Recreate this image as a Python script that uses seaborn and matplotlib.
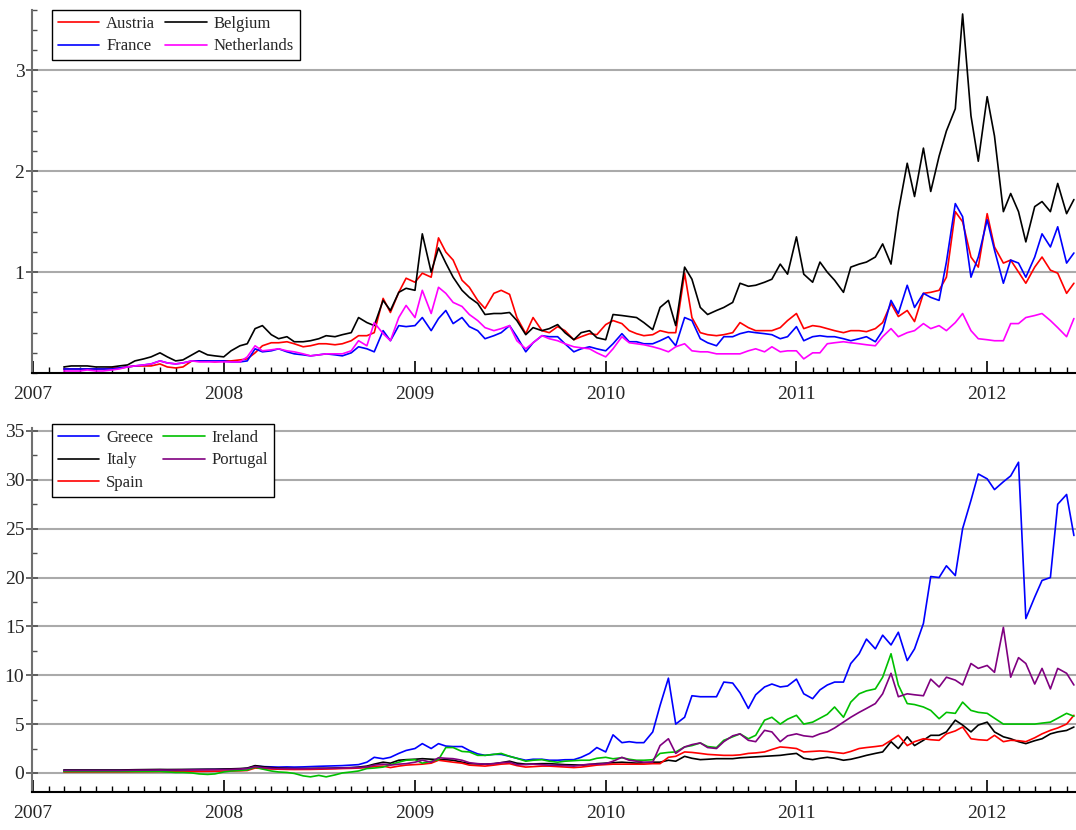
import numpy as np
import pandas as pd
import matplotlib
matplotlib.use("Agg")
import matplotlib.pyplot as plt
import matplotlib.dates as mdates
from matplotlib.ticker import MultipleLocator, FixedLocator
import seaborn as sns

# semi-monthly observations, Mar 2007 - Jun 2012
dates = pd.date_range("2007-03-01", periods=128, freq="SMS")

austria = [
    0.04, 0.04, 0.04, 0.04, 0.04, 0.04, 0.05, 0.05,
    0.06, 0.07, 0.07, 0.07, 0.09, 0.06, 0.05, 0.06,
    0.12, 0.12, 0.12, 0.11, 0.12, 0.12, 0.13, 0.14,
    0.20, 0.27, 0.30, 0.30, 0.31, 0.29, 0.26, 0.27,
    0.29, 0.29, 0.28, 0.29, 0.32, 0.37, 0.37, 0.40,
    0.74, 0.60, 0.80, 0.94, 0.90, 0.99, 0.95, 1.34,
    1.20, 1.12, 0.92, 0.85, 0.72, 0.64, 0.79, 0.82,
    0.78, 0.55, 0.39, 0.55, 0.42, 0.40, 0.46, 0.42,
    0.33, 0.36, 0.39, 0.38, 0.48, 0.52, 0.49, 0.42,
    0.39, 0.37, 0.38, 0.42, 0.40, 0.40, 0.99, 0.55,
    0.40, 0.38, 0.37, 0.38, 0.40, 0.50, 0.45, 0.42,
    0.42, 0.42, 0.45, 0.52, 0.59, 0.44, 0.47, 0.46,
    0.44, 0.42, 0.40, 0.42, 0.42, 0.41, 0.44, 0.50,
    0.69, 0.56, 0.62, 0.51, 0.79, 0.80, 0.82, 0.95,
    1.60, 1.50, 1.15, 1.05, 1.58, 1.25, 1.09, 1.12,
    1.00, 0.89, 1.05, 1.15, 1.02, 0.99, 0.79, 0.89,
]
belgium = [
    0.06, 0.07, 0.07, 0.07, 0.06, 0.06, 0.06, 0.07,
    0.08, 0.12, 0.14, 0.16, 0.20, 0.16, 0.12, 0.13,
    0.18, 0.22, 0.18, 0.17, 0.16, 0.22, 0.27, 0.29,
    0.44, 0.47, 0.38, 0.34, 0.36, 0.31, 0.31, 0.32,
    0.34, 0.37, 0.36, 0.38, 0.40, 0.55, 0.50, 0.47,
    0.72, 0.62, 0.80, 0.84, 0.82, 1.38, 1.00, 1.24,
    1.09, 0.95, 0.82, 0.75, 0.69, 0.58, 0.59, 0.59,
    0.60, 0.52, 0.38, 0.45, 0.42, 0.44, 0.48, 0.40,
    0.33, 0.40, 0.42, 0.35, 0.33, 0.58, 0.57, 0.56,
    0.55, 0.50, 0.43, 0.65, 0.72, 0.47, 1.05, 0.93,
    0.65, 0.58, 0.62, 0.65, 0.70, 0.89, 0.86, 0.87,
    0.90, 0.93, 1.08, 0.98, 1.35, 0.98, 0.90, 1.10,
    1.00, 0.92, 0.80, 1.05, 1.08, 1.10, 1.15, 1.28,
    1.08, 1.60, 2.08, 1.75, 2.23, 1.80, 2.15, 2.40,
    2.62, 3.56, 2.55, 2.10, 2.74, 2.35, 1.60, 1.78,
    1.60, 1.30, 1.65, 1.70, 1.60, 1.88, 1.58, 1.72,
]
france = [
    0.04, 0.04, 0.04, 0.04, 0.04, 0.04, 0.04, 0.05,
    0.06, 0.07, 0.08, 0.09, 0.12, 0.10, 0.09, 0.10,
    0.12, 0.12, 0.12, 0.12, 0.12, 0.11, 0.11, 0.12,
    0.24, 0.21, 0.22, 0.24, 0.21, 0.19, 0.18, 0.17,
    0.18, 0.19, 0.18, 0.17, 0.20, 0.26, 0.24, 0.21,
    0.42, 0.32, 0.47, 0.46, 0.47, 0.55, 0.42, 0.54,
    0.62, 0.49, 0.55, 0.46, 0.42, 0.34, 0.37, 0.40,
    0.47, 0.36, 0.21, 0.30, 0.37, 0.36, 0.36, 0.29,
    0.21, 0.24, 0.26, 0.24, 0.22, 0.29, 0.39, 0.31,
    0.31, 0.29, 0.29, 0.32, 0.36, 0.27, 0.55, 0.52,
    0.34, 0.30, 0.27, 0.36, 0.36, 0.39, 0.41, 0.40,
    0.39, 0.38, 0.34, 0.36, 0.46, 0.32, 0.36, 0.37,
    0.36, 0.36, 0.34, 0.32, 0.34, 0.36, 0.31, 0.42,
    0.72, 0.59, 0.87, 0.65, 0.79, 0.75, 0.72, 1.10,
    1.68, 1.55, 0.95, 1.15, 1.52, 1.22, 0.89, 1.12,
    1.09, 0.95, 1.15, 1.38, 1.25, 1.45, 1.09, 1.19,
]
netherlands = [
    0.02, 0.02, 0.02, 0.03, 0.02, 0.02, 0.03, 0.04,
    0.06, 0.07, 0.08, 0.09, 0.12, 0.10, 0.09, 0.10,
    0.12, 0.11, 0.11, 0.11, 0.11, 0.11, 0.11, 0.16,
    0.27, 0.22, 0.23, 0.24, 0.22, 0.21, 0.19, 0.17,
    0.18, 0.19, 0.19, 0.19, 0.22, 0.32, 0.27, 0.50,
    0.39, 0.32, 0.55, 0.67, 0.55, 0.82, 0.59, 0.85,
    0.79, 0.70, 0.66, 0.58, 0.52, 0.45, 0.42, 0.44,
    0.47, 0.32, 0.24, 0.30, 0.37, 0.34, 0.32, 0.29,
    0.26, 0.25, 0.24, 0.20, 0.16, 0.24, 0.36, 0.30,
    0.29, 0.28, 0.26, 0.24, 0.21, 0.26, 0.29, 0.22,
    0.21, 0.21, 0.19, 0.19, 0.19, 0.19, 0.22, 0.24,
    0.21, 0.26, 0.21, 0.22, 0.22, 0.14, 0.20, 0.20,
    0.29, 0.30, 0.31, 0.30, 0.29, 0.28, 0.27, 0.36,
    0.44, 0.36, 0.40, 0.42, 0.49, 0.44, 0.47, 0.42,
    0.50, 0.59, 0.42, 0.34, 0.33, 0.32, 0.32, 0.49,
    0.49, 0.55, 0.57, 0.59, 0.52, 0.45, 0.36, 0.54,
]

greece = [
    0.25, 0.25, 0.25, 0.25, 0.25, 0.25, 0.25, 0.25,
    0.27, 0.28, 0.30, 0.30, 0.32, 0.30, 0.30, 0.32,
    0.33, 0.34, 0.35, 0.36, 0.37, 0.38, 0.40, 0.45,
    0.70, 0.65, 0.62, 0.60, 0.62, 0.60, 0.62, 0.65,
    0.68, 0.70, 0.72, 0.75, 0.80, 0.85, 1.10, 1.60,
    1.45, 1.60, 2.00, 2.30, 2.50, 3.00, 2.50, 3.00,
    2.75, 2.70, 2.70, 2.30, 1.95, 1.80, 1.90, 1.90,
    1.70, 1.50, 1.30, 1.40, 1.40, 1.30, 1.30, 1.35,
    1.36, 1.60, 2.00, 2.60, 2.15, 3.90, 3.10, 3.20,
    3.10, 3.10, 4.20, 6.90, 9.70, 5.00, 5.70, 7.90,
    7.80, 7.80, 7.80, 9.30, 9.20, 8.20, 6.60, 8.00,
    8.80, 9.10, 8.80, 8.90, 9.60, 8.10, 7.60, 8.50,
    9.00, 9.30, 9.30, 11.20, 12.20, 13.70, 12.70, 14.10,
    13.10, 14.40, 11.50, 12.70, 15.30, 20.10, 20.00, 21.20,
    20.20, 25.00, 27.90, 30.60, 30.10, 29.00, 29.80, 30.40,
    31.80, 15.80, 18.00, 19.70, 20.00, 27.50, 28.50, 24.30,
]
ireland = [
    0.15, 0.15, 0.15, 0.15, 0.15, 0.15, 0.15, 0.15,
    0.15, 0.15, 0.15, 0.15, 0.15, 0.10, 0.05, 0.05,
    0.00, -0.10, -0.15, -0.10, 0.10, 0.20, 0.25, 0.30,
    0.60, 0.40, 0.20, 0.10, 0.05, -0.05, -0.30, -0.40,
    -0.25, -0.40, -0.20, 0.00, 0.10, 0.20, 0.45, 0.50,
    0.60, 0.85, 1.10, 1.30, 1.36, 1.00, 1.20, 1.36,
    2.60, 2.60, 2.20, 2.15, 1.80, 1.80, 1.90, 2.00,
    1.70, 1.50, 1.20, 1.30, 1.36, 1.20, 1.10, 1.20,
    1.25, 1.30, 1.30, 1.50, 1.60, 1.45, 1.56, 1.40,
    1.30, 1.30, 1.35, 2.00, 2.10, 2.15, 2.66, 2.80,
    3.07, 2.70, 2.60, 3.34, 3.70, 4.00, 3.50, 3.85,
    5.40, 5.70, 5.00, 5.50, 5.90, 5.00, 5.20, 5.60,
    6.00, 6.75, 5.70, 7.25, 8.10, 8.40, 8.60, 9.80,
    12.20, 9.00, 7.10, 7.00, 6.75, 6.40, 5.55, 6.20,
    6.10, 7.25, 6.40, 6.20, 6.10, 5.60, 5.00, 5.00,
    5.00, 5.00, 5.00, 5.10, 5.20, 5.60, 6.10, 5.80,
]
italy = [
    0.30, 0.30, 0.30, 0.30, 0.30, 0.30, 0.30, 0.30,
    0.32, 0.33, 0.34, 0.35, 0.36, 0.35, 0.35, 0.36,
    0.37, 0.38, 0.38, 0.38, 0.40, 0.42, 0.45, 0.50,
    0.75, 0.65, 0.55, 0.50, 0.48, 0.45, 0.45, 0.46,
    0.48, 0.48, 0.50, 0.52, 0.55, 0.60, 0.70, 0.90,
    1.10, 1.00, 1.30, 1.36, 1.40, 1.46, 1.40, 1.36,
    1.35, 1.30, 1.10, 0.95, 0.92, 0.90, 0.95, 1.05,
    1.20, 1.00, 0.90, 0.92, 0.95, 0.95, 0.90, 0.85,
    0.82, 0.80, 0.85, 0.95, 1.00, 1.05, 1.10, 1.05,
    1.00, 1.05, 1.10, 1.10, 1.30, 1.20, 1.70, 1.50,
    1.36, 1.40, 1.46, 1.46, 1.46, 1.55, 1.60, 1.65,
    1.70, 1.75, 1.80, 1.90, 2.00, 1.50, 1.36, 1.50,
    1.60, 1.50, 1.30, 1.40, 1.60, 1.80, 2.00, 2.15,
    3.20, 2.50, 3.70, 2.80, 3.34, 3.85, 3.85, 4.20,
    5.40, 4.90, 4.20, 4.90, 5.20, 4.20, 3.70, 3.50,
    3.20, 3.00, 3.30, 3.50, 4.00, 4.20, 4.35, 4.70,
]
portugal = [
    0.25, 0.25, 0.25, 0.25, 0.25, 0.25, 0.25, 0.25,
    0.27, 0.28, 0.28, 0.29, 0.30, 0.29, 0.30, 0.30,
    0.31, 0.32, 0.33, 0.33, 0.34, 0.36, 0.40, 0.45,
    0.65, 0.55, 0.48, 0.45, 0.44, 0.43, 0.43, 0.44,
    0.45, 0.46, 0.48, 0.50, 0.52, 0.55, 0.62, 0.80,
    0.90, 0.80, 0.90, 0.95, 1.10, 1.30, 1.10, 1.56,
    1.50, 1.46, 1.30, 1.05, 0.95, 0.90, 0.95, 1.05,
    1.10, 0.85, 0.85, 0.90, 0.85, 0.80, 0.78, 0.75,
    0.70, 0.80, 0.90, 0.90, 0.95, 1.20, 1.60, 1.30,
    1.20, 1.10, 1.10, 2.80, 3.50, 2.00, 2.66, 2.90,
    3.07, 2.60, 2.50, 3.20, 3.80, 4.00, 3.34, 3.20,
    4.36, 4.20, 3.20, 3.80, 4.00, 3.80, 3.70, 4.00,
    4.20, 4.60, 5.20, 5.70, 6.20, 6.60, 7.10, 8.10,
    10.20, 7.80, 8.10, 8.00, 7.90, 9.60, 8.80, 9.80,
    9.50, 9.00, 11.20, 10.70, 11.00, 10.30, 14.90, 9.80,
    11.80, 11.20, 9.10, 10.70, 8.60, 10.70, 10.20, 9.00,
]
spain = [
    0.10, 0.10, 0.10, 0.10, 0.10, 0.10, 0.10, 0.10,
    0.11, 0.12, 0.12, 0.13, 0.14, 0.13, 0.13, 0.14,
    0.15, 0.16, 0.17, 0.17, 0.18, 0.20, 0.22, 0.25,
    0.50, 0.45, 0.40, 0.38, 0.36, 0.35, 0.35, 0.36,
    0.38, 0.40, 0.42, 0.45, 0.47, 0.50, 0.55, 0.65,
    0.70, 0.55, 0.70, 0.80, 0.85, 0.90, 1.00, 1.30,
    1.20, 1.10, 1.00, 0.80, 0.75, 0.70, 0.80, 0.90,
    0.95, 0.75, 0.60, 0.65, 0.70, 0.70, 0.65, 0.60,
    0.55, 0.60, 0.70, 0.80, 0.85, 0.90, 0.90, 0.90,
    0.90, 0.90, 0.95, 0.95, 1.60, 1.70, 2.15, 2.10,
    2.00, 1.90, 1.85, 1.80, 1.80, 1.85, 2.00, 2.05,
    2.15, 2.40, 2.66, 2.60, 2.50, 2.15, 2.20, 2.25,
    2.20, 2.10, 2.00, 2.20, 2.50, 2.60, 2.70, 2.80,
    3.34, 3.85, 2.80, 3.20, 3.50, 3.40, 3.34, 4.00,
    4.30, 4.70, 3.50, 3.40, 3.34, 3.85, 3.20, 3.34,
    3.30, 3.20, 3.60, 4.00, 4.36, 4.60, 5.00, 5.90,
]

core = {"Austria": austria, "France": france, "Belgium": belgium, "Netherlands": netherlands}
periphery = {"Greece": greece, "Italy": italy, "Spain": spain, "Ireland": ireland, "Portugal": portugal}
colors = {"Austria": "#ff0000", "Belgium": "#000000", "France": "#0000ff", "Netherlands": "#ff00ff",
          "Greece": "#0000ff", "Ireland": "#00c000", "Italy": "#000000", "Portugal": "#800080",
          "Spain": "#ff0000"}

sns.set_theme(style="white")
plt.rcParams["font.family"] = ["Liberation Serif", "DejaVu Serif"]


def to_long(d):
    df = pd.DataFrame(d)
    df["date"] = dates
    return df.melt(id_vars="date", var_name="country", value_name="value")


def style_axis(ax, ylim, major, minor):
    ax.set_xlim(pd.Timestamp("2006-12-30"), pd.Timestamp("2012-06-19"))
    ax.set_ylim(*ylim)
    ax.xaxis.set_major_locator(mdates.YearLocator())
    ax.xaxis.set_minor_locator(mdates.MonthLocator())
    ax.xaxis.set_major_formatter(mdates.DateFormatter("%Y"))
    ax.yaxis.set_major_locator(FixedLocator(major))
    ax.yaxis.set_minor_locator(MultipleLocator(minor))
    ax.grid(axis="y", which="major", color="#aaaaaa", lw=1.5)
    ax.grid(axis="x", visible=False)
    for s in ["top", "right"]:
        ax.spines[s].set_visible(False)
    ax.spines["left"].set_color("#707070")
    ax.spines["left"].set_linewidth(1.5)
    ax.spines["bottom"].set_color("black")
    ax.spines["bottom"].set_linewidth(1.5)
    ax.tick_params(axis="x", which="major", direction="in", length=9, width=1.2, color="black",
                   labelsize=14, pad=9)
    ax.tick_params(axis="x", which="minor", direction="in", length=4.5, width=1, color="black")
    ax.tick_params(axis="y", which="major", direction="inout", length=9, width=1.2, color="#505050",
                   labelsize=14, pad=1)
    ax.tick_params(axis="y", which="minor", direction="in", length=3.5, width=1, color="#505050")
    ax.tick_params(bottom=True, left=True, which="both")
    ax.set_xlabel("")
    ax.set_ylabel("")


fig = plt.figure(figsize=(10.76, 8.3), dpi=100)
ax1 = fig.add_axes([0.0297, 0.5506, 0.9703, 0.4374])
ax2 = fig.add_axes([0.0297, 0.0452, 0.9703, 0.4391])

sns.lineplot(data=to_long(core), x="date", y="value", hue="country", palette=colors,
             hue_order=list(core), estimator=None, lw=1.2, ax=ax1)
sns.lineplot(data=to_long(periphery), x="date", y="value", hue="country", palette=colors,
             hue_order=list(periphery), estimator=None, lw=1.2, ax=ax2)

style_axis(ax1, (0, 3.6), [1, 2, 3], 0.2)
style_axis(ax2, (-2, 35.3), [0, 5, 10, 15, 20, 25, 30, 35], 2.5)

for ax, top in [(ax1, 0.988), (ax2, 0.4892)]:
    h, l = ax.get_legend_handles_labels()
    leg = ax.legend(h, l, ncol=2, loc="upper left", bbox_to_anchor=(0.0483, top),
                    bbox_transform=fig.transFigure, fontsize=12, frameon=True, fancybox=False,
                    framealpha=1, edgecolor="black", handlelength=2.5, handletextpad=0.4,
                    columnspacing=0.6, borderpad=0.35, labelspacing=0.4, borderaxespad=0)
    leg.get_frame().set_linewidth(1.0)

fig.savefig("out.png", dpi=100)
